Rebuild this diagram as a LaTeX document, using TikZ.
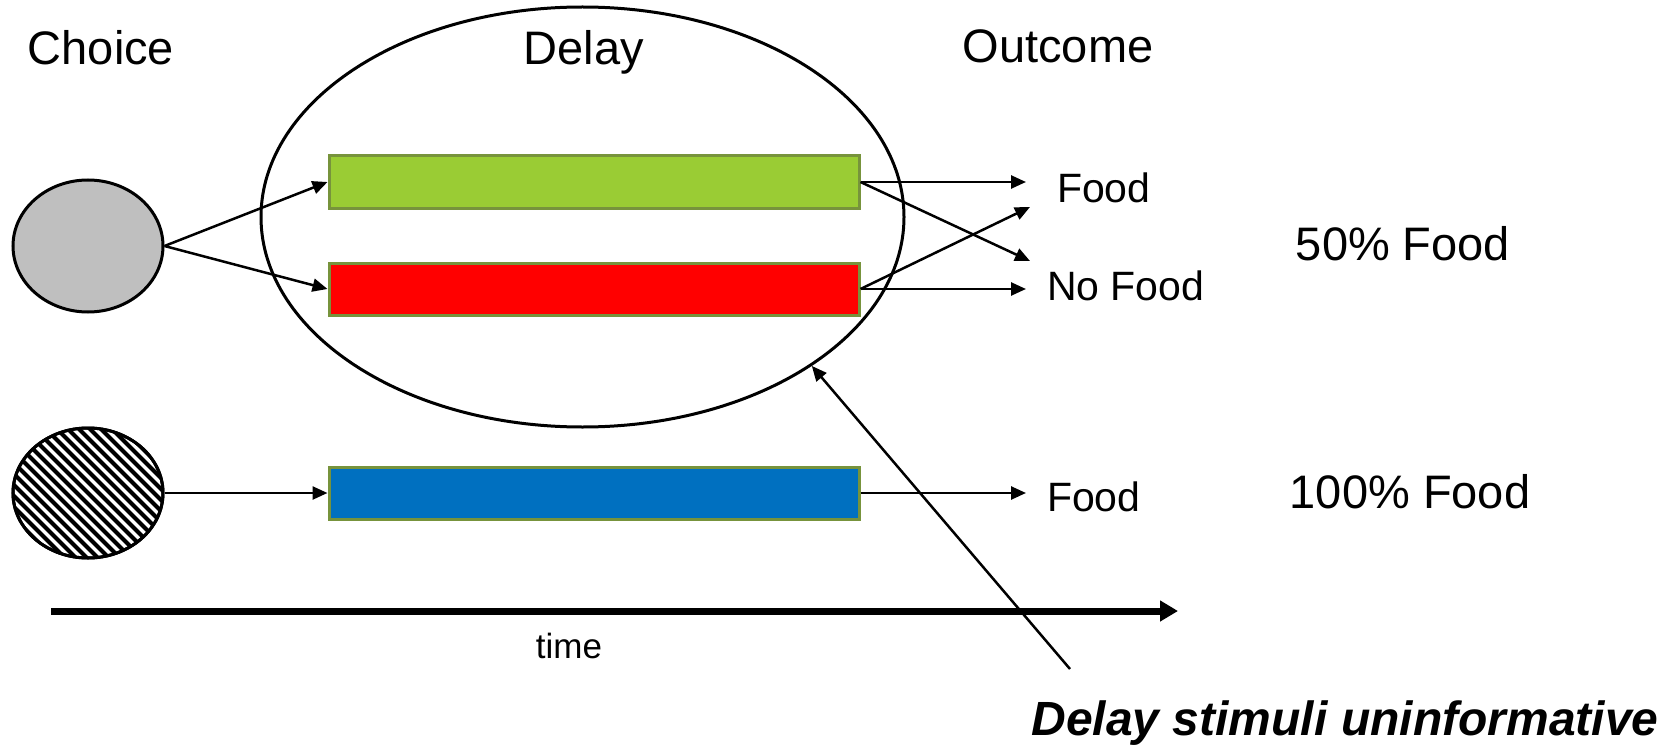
\documentclass[tikz,border=0pt]{standalone}
\usepackage{fontspec}
\setmainfont{Liberation Sans}
\usetikzlibrary{arrows.meta,shapes.geometric}

\begin{document}
\begin{tikzpicture}[x=1pt,y=-1pt,line cap=butt]
\def\diafont#1{\fontsize{#1pt}{#1pt}\selectfont}
\definecolor{custcol_black}{RGB}{0, 0, 0}
\definecolor{custcol_grey}{RGB}{191, 191, 191}
\definecolor{custcol_green}{RGB}{154, 204, 52}
\definecolor{custcol_olive}{RGB}{119, 147, 60}
\definecolor{custcol_red}{RGB}{255, 0, 0}
\definecolor{custcol_blue}{RGB}{0, 112, 192}
\tikzset{
  stim/.style={ellipse, draw=custcol_black, line width=3.0pt, inner sep=0, minimum width=150, minimum height=132},
  bar/.style={rectangle, draw=custcol_olive, line width=3.0pt, inner sep=0, minimum width=530, minimum height=52},
  link/.style={line width=2.5pt, custcol_black, -{Triangle[length=15pt,width=13pt]}},
  lbl/.style={inner sep=0, outer sep=0, custcol_black}
}
\useasboundingbox (0,0) rectangle (1672,746);
% delay set
\node[ellipse, draw=custcol_black, line width=3.0pt, inner sep=0, minimum width=643, minimum height=420] (delayset) at (582.5,217.0) {};
% choice stimuli
\node[stim, fill=custcol_grey] (choiceA) at (88.0,246.0) {};
\node[stim, minimum height=130] (choiceB) at (88.0,493.0) {};
\begin{scope}
\clip (88.0,493.0) ellipse (75.0 and 65.0);
\foreach \k in {-14,...,14}
  \draw [line width=4.0pt, custcol_black] (\k*11-2,403.0) -- (\k*11+178,583.0);
\end{scope}
\draw [line width=3.0pt, custcol_black] (choiceB.center) ellipse (75.0 and 65.0);
% delay bars
\node[bar, fill=custcol_green] (barG) at (594.0,182.0) {};
\node[bar, fill=custcol_red] (barR) at (594.0,289.0) {};
\node[bar, fill=custcol_blue] (barB) at (594.0,493.0) {};
\draw [link] (choiceA.east) -- (barG.west);
\draw [link] (choiceA.east) -- (barR.west);
\draw [link] (choiceB.east) -- (barB.west);
% outcomes
\coordinate (outG) at (1026.0,182.0);
\coordinate (outGx) at (1030.0,261.0);
\coordinate (outR) at (1026.0,289.0);
\coordinate (outRx) at (1030.0,207.0);
\coordinate (outB) at (1026.0,493.0);
\draw [link] (barG.east) -- (outG);
\draw [link] (barG.east) -- (outGx);
\draw [link] (barR.east) -- (outR);
\draw [link] (barR.east) -- (outRx);
\draw [link] (barB.east) -- (outB);
{\diafont{41}\node[lbl, anchor=base west] (foodA) at (1057.0,202.0) {Food};}
{\diafont{41}\node[lbl, anchor=base west] (nofood) at (1047.0,300.0) {No Food};}
{\diafont{41}\node[lbl, anchor=base west] (foodB) at (1047.0,511.0) {Food};}
% headings
{\diafont{47}\node[lbl, anchor=base] (hChoice) at (101.0,65.0) {Choice};}
{\diafont{47}\node[lbl, anchor=base] (hDelay) at (584.0,65.0) {Delay};}
{\diafont{47}\node[lbl, anchor=base] (hOutcome) at (1058.0,63.0) {Outcome};}
{\diafont{47}\node[lbl, anchor=base] (pHalf) at (1403.0,260.0) {50\% Food};}
{\diafont{47}\node[lbl, anchor=base] (pFull) at (1410.0,508.0) {100\% Food};}
% time axis
\coordinate (tStart) at (51.0,611.0);
\coordinate (tEnd) at (1178.0,611.0);
\draw [line width=7.0pt, custcol_black, -{Triangle[length=18pt,width=20pt]}] (tStart) -- (tEnd);
{\diafont{35}\node[lbl, anchor=base] (tLabel) at (569.0,658.0) {time};}
% pointer to delay set
\coordinate (ptrTail) at (1070.0,669.0);
\draw [link] (ptrTail) -- (delayset.-33.2);
{\diafont{48}\node[lbl, anchor=base] (note) at (1345.0,735.0) {\bfseries\itshape Delay stimuli uninformative};}
\end{tikzpicture}
\end{document}
